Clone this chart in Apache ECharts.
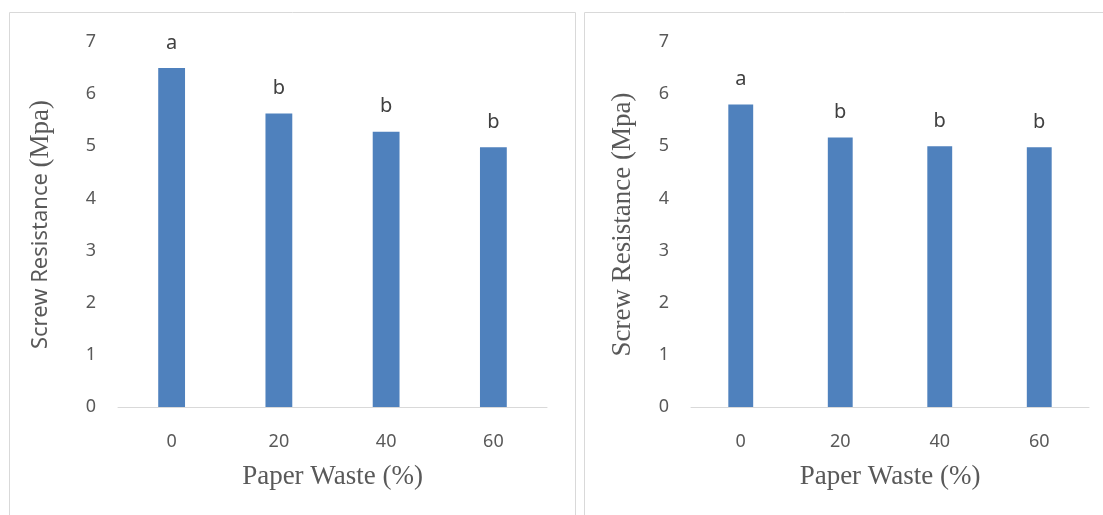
<!DOCTYPE html>
<html><head><meta charset="utf-8">
<script src="https://cdn.jsdelivr.net/npm/echarts@6/dist/echarts.min.js"></script>
<style>html,body{margin:0;padding:0;background:#fff;}#c{width:1103px;height:515px;}</style>
</head><body><div id="c"></div>
<script>
const categories = ['0', '20', '40', '60'];
const leftValues = [6.5, 5.63, 5.28, 4.98];
const rightValues = [5.8, 5.17, 5.0, 4.98];
const leftLetters = ['a', 'b', 'b', 'b'];
const rightLetters = ['a', 'b', 'b', 'b'];
const yTicks = [0, 1, 2, 3, 4, 5, 6, 7];

const chart = echarts.init(document.getElementById('c'));
const tickColor = '#595959';
const sans = 'Noto Sans';
const serif = 'Liberation Serif';

function xAxis(gi) {
  return {
    type: 'category', gridIndex: gi, data: categories,
    axisLine: {lineStyle: {color: '#d9d9d9', width: 1}},
    axisTick: {show: false},
    axisLabel: {color: tickColor, fontFamily: sans, fontSize: 18, margin: 26},
    name: 'Paper Waste (%)', nameLocation: 'middle', nameGap: 56,
    nameTextStyle: {color: tickColor, fontFamily: serif, fontSize: 27}
  };
}
function yAxis(gi, gap, margin, mixed) {
  const nameStyle = mixed ? {
    color: tickColor, fontFamily: serif, fontSize: 27,
    rich: {
      s: {color: tickColor, fontFamily: sans, fontSize: 22},
      m: {color: tickColor, fontFamily: serif, fontSize: 27}
    }
  } : {color: tickColor, fontFamily: serif, fontSize: 27};
  return {
    type: 'value', gridIndex: gi, min: yTicks[0], max: yTicks[yTicks.length - 1], interval: 1,
    splitLine: {show: false}, axisLine: {show: false}, axisTick: {show: false},
    axisLabel: {color: tickColor, fontFamily: sans, fontSize: 18, margin: margin},
    name: mixed ? '{s|Screw Resistance }{m|(Mpa)}' : 'Screw Resistance (Mpa)',
    nameLocation: 'middle', nameGap: gap,
    nameTextStyle: nameStyle
  };
}
function series(gi, vals, letters) {
  return {
    type: 'bar', xAxisIndex: gi, yAxisIndex: gi, barWidth: '25%',
    data: vals.map((v, i) => ({value: v, label: {formatter: letters[i]}})),
    itemStyle: {color: '#4f81bd'},
    label: {show: true, position: 'top', distance: 15, color: '#404040', fontFamily: sans, fontSize: 20},
    silent: true, animation: false
  };
}

chart.setOption({
  animation: false,
  graphic: [
    {type: 'rect', shape: {x: 9.5, y: 12.5, width: 566, height: 520}, style: {fill: 'none', stroke: '#d9d9d9', lineWidth: 1}},
    {type: 'rect', shape: {x: 584.5, y: 12.5, width: 540, height: 520}, style: {fill: 'none', stroke: '#d9d9d9', lineWidth: 1}}
  ],
  grid: [
    {left: 118, width: 429, top: 42, height: 365},
    {left: 691, width: 398, top: 42, height: 365}
  ],
  xAxis: [xAxis(0), xAxis(1)],
  yAxis: [yAxis(0, 64, 22, true), yAxis(1, 55, 22, false)],
  series: [series(0, leftValues, leftLetters), series(1, rightValues, rightLetters)]
});
</script></body></html>
